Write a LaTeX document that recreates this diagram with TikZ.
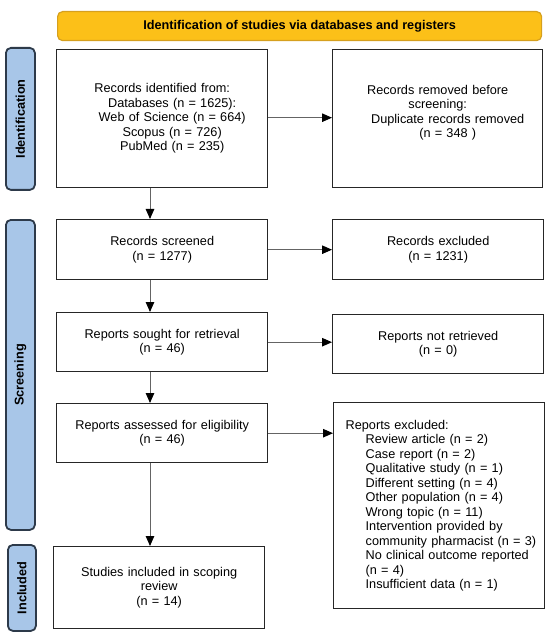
\documentclass[tikz,border=0pt]{standalone}
\usepackage{fontspec}
\setmainfont{Liberation Sans}
\usetikzlibrary{arrows.meta,calc}
\definecolor{bannerfill}{RGB}{252,192,24}
\definecolor{bannerdraw}{RGB}{214,160,30}
\definecolor{sidefill}{RGB}{168,198,232}
\definecolor{sidedraw}{RGB}{45,58,74}
\definecolor{arrowline}{RGB}{100,100,100}
\begin{document}
\begin{tikzpicture}[x=1pt,y=-1pt,
  every node/.style={font=\fontsize{12.7pt}{14.5pt}\selectfont},
  box/.style={draw=black!85, line width=1.4pt, rectangle, anchor=north west, inner sep=0pt, align=center},
  sidelab/.style={draw=sidedraw, fill=sidefill, line width=1.8pt, rounded corners=5pt, anchor=north west, inner sep=0pt},
  sidetext/.style={font=\fontsize{12.7pt}{14.5pt}\selectfont\bfseries, rotate=90},
  flow/.style={draw=arrowline, line width=1pt, -{Triangle[length=10pt,width=8.5pt,color=black,fill=black]}},
]
\useasboundingbox (0,0) rectangle (550,636);
% banner
\node[draw=bannerdraw, fill=bannerfill, line width=1.2pt, rounded corners=5pt, anchor=north west, inner sep=0pt,
  minimum width=484pt, minimum height=29pt, font=\fontsize{12.7pt}{14.5pt}\selectfont\bfseries] (banner) at (57,11)
  {Identification of studies via databases and registers};
% side labels
\node[sidelab, minimum width=29pt, minimum height=142pt] (idlab) at (5,47) {};
\node[sidetext] at (idlab.center) {Identification};
\node[sidelab, minimum width=29pt, minimum height=310pt] (scrlab) at (5,219) {};
\node[sidetext] at (scrlab.center) {Screening};
\node[sidelab, minimum width=28pt, minimum height=86pt] (inclab) at (7,544) {};
\node[sidetext] at (inclab.center) {Included};
% boxes
\node[box, minimum width=211pt, minimum height=138pt, text width=211pt] (b1) at (56,49)
  {Records identified from:\\
   \hspace*{20pt}Databases (n = 1625):\\
   \hspace*{20pt}Web of Science (n = 664)\\
   \hspace*{20pt}Scopus (n = 726)\\
   \hspace*{20pt}PubMed (n = 235)};
\node[box, minimum width=210pt, minimum height=138pt, text width=210pt] (b2) at (332,49)
  {Records removed before\\
   screening:\\
   \hspace*{20pt}Duplicate records removed\\
   \hspace*{20pt}(n = 348 )\\
   \mbox{}};
\node[box, minimum width=211pt, minimum height=60pt, text width=211pt] (b3) at (56,219)
  {Records screened\\(n = 1277)};
\node[box, minimum width=211pt, minimum height=60pt, text width=211pt] (b4) at (332,219)
  {Records excluded\\(n = 1231)};
\node[box, minimum width=211pt, minimum height=59pt, text width=211pt] (b5) at (56,312)
  {Reports sought for retrieval\\(n = 46)};
\node[box, minimum width=211pt, minimum height=59pt, text width=211pt] (b6) at (332,314)
  {Reports not retrieved\\(n = 0)};
\node[box, minimum width=211pt, minimum height=59pt, text width=211pt] (b7) at (56,403)
  {Reports assessed for eligibility\\(n = 46)};
\node[box, minimum width=211pt, minimum height=206pt, text width=187pt, inner xsep=12pt, align=left] (b8) at (333,402)
  {Reports excluded:\\
   \hspace*{20pt}\mbox{Review article (n = 2)}\\
   \hspace*{20pt}\mbox{Case report (n = 2)}\\
   \hspace*{20pt}\mbox{Qualitative study (n = 1)}\\
   \hspace*{20pt}\mbox{Different setting (n = 4)}\\
   \hspace*{20pt}\mbox{Other population (n = 4)}\\
   \hspace*{20pt}\mbox{Wrong topic (n = 11)}\\
   \hspace*{20pt}\mbox{Intervention provided by}\\
   \hspace*{20pt}\mbox{community pharmacist (n = 3)}\\
   \hspace*{20pt}\mbox{No clinical outcome reported}\\
   \hspace*{20pt}\mbox{(n = 4)}\\
   \hspace*{20pt}\mbox{Insufficient data (n = 1)}};
\node[box, minimum width=211pt, minimum height=82pt, text width=211pt] (b9) at (53,546)
  {Studies included in scoping\\review\\(n = 14)};
% connectors
\coordinate (axis) at (150,0);
\draw[flow] (b1.south -| axis) -- (b3.north -| axis);
\draw[flow] (b3.south -| axis) -- (b5.north -| axis);
\draw[flow] (b5.south -| axis) -- (b7.north -| axis);
\draw[flow] (b7.south -| axis) -- (b9.north -| axis);
\draw[flow] ($(b1.east)+(0,-1)$) -- ($(b1.east -| b2.west)+(0,-1)$);
\draw[flow] (b3.east) -- (b3.east -| b4.west);
\draw[flow] (b5.east) -- (b5.east -| b6.west);
\draw[flow] (b7.east) -- (b7.east -| b8.west);
\end{tikzpicture}
\end{document}
